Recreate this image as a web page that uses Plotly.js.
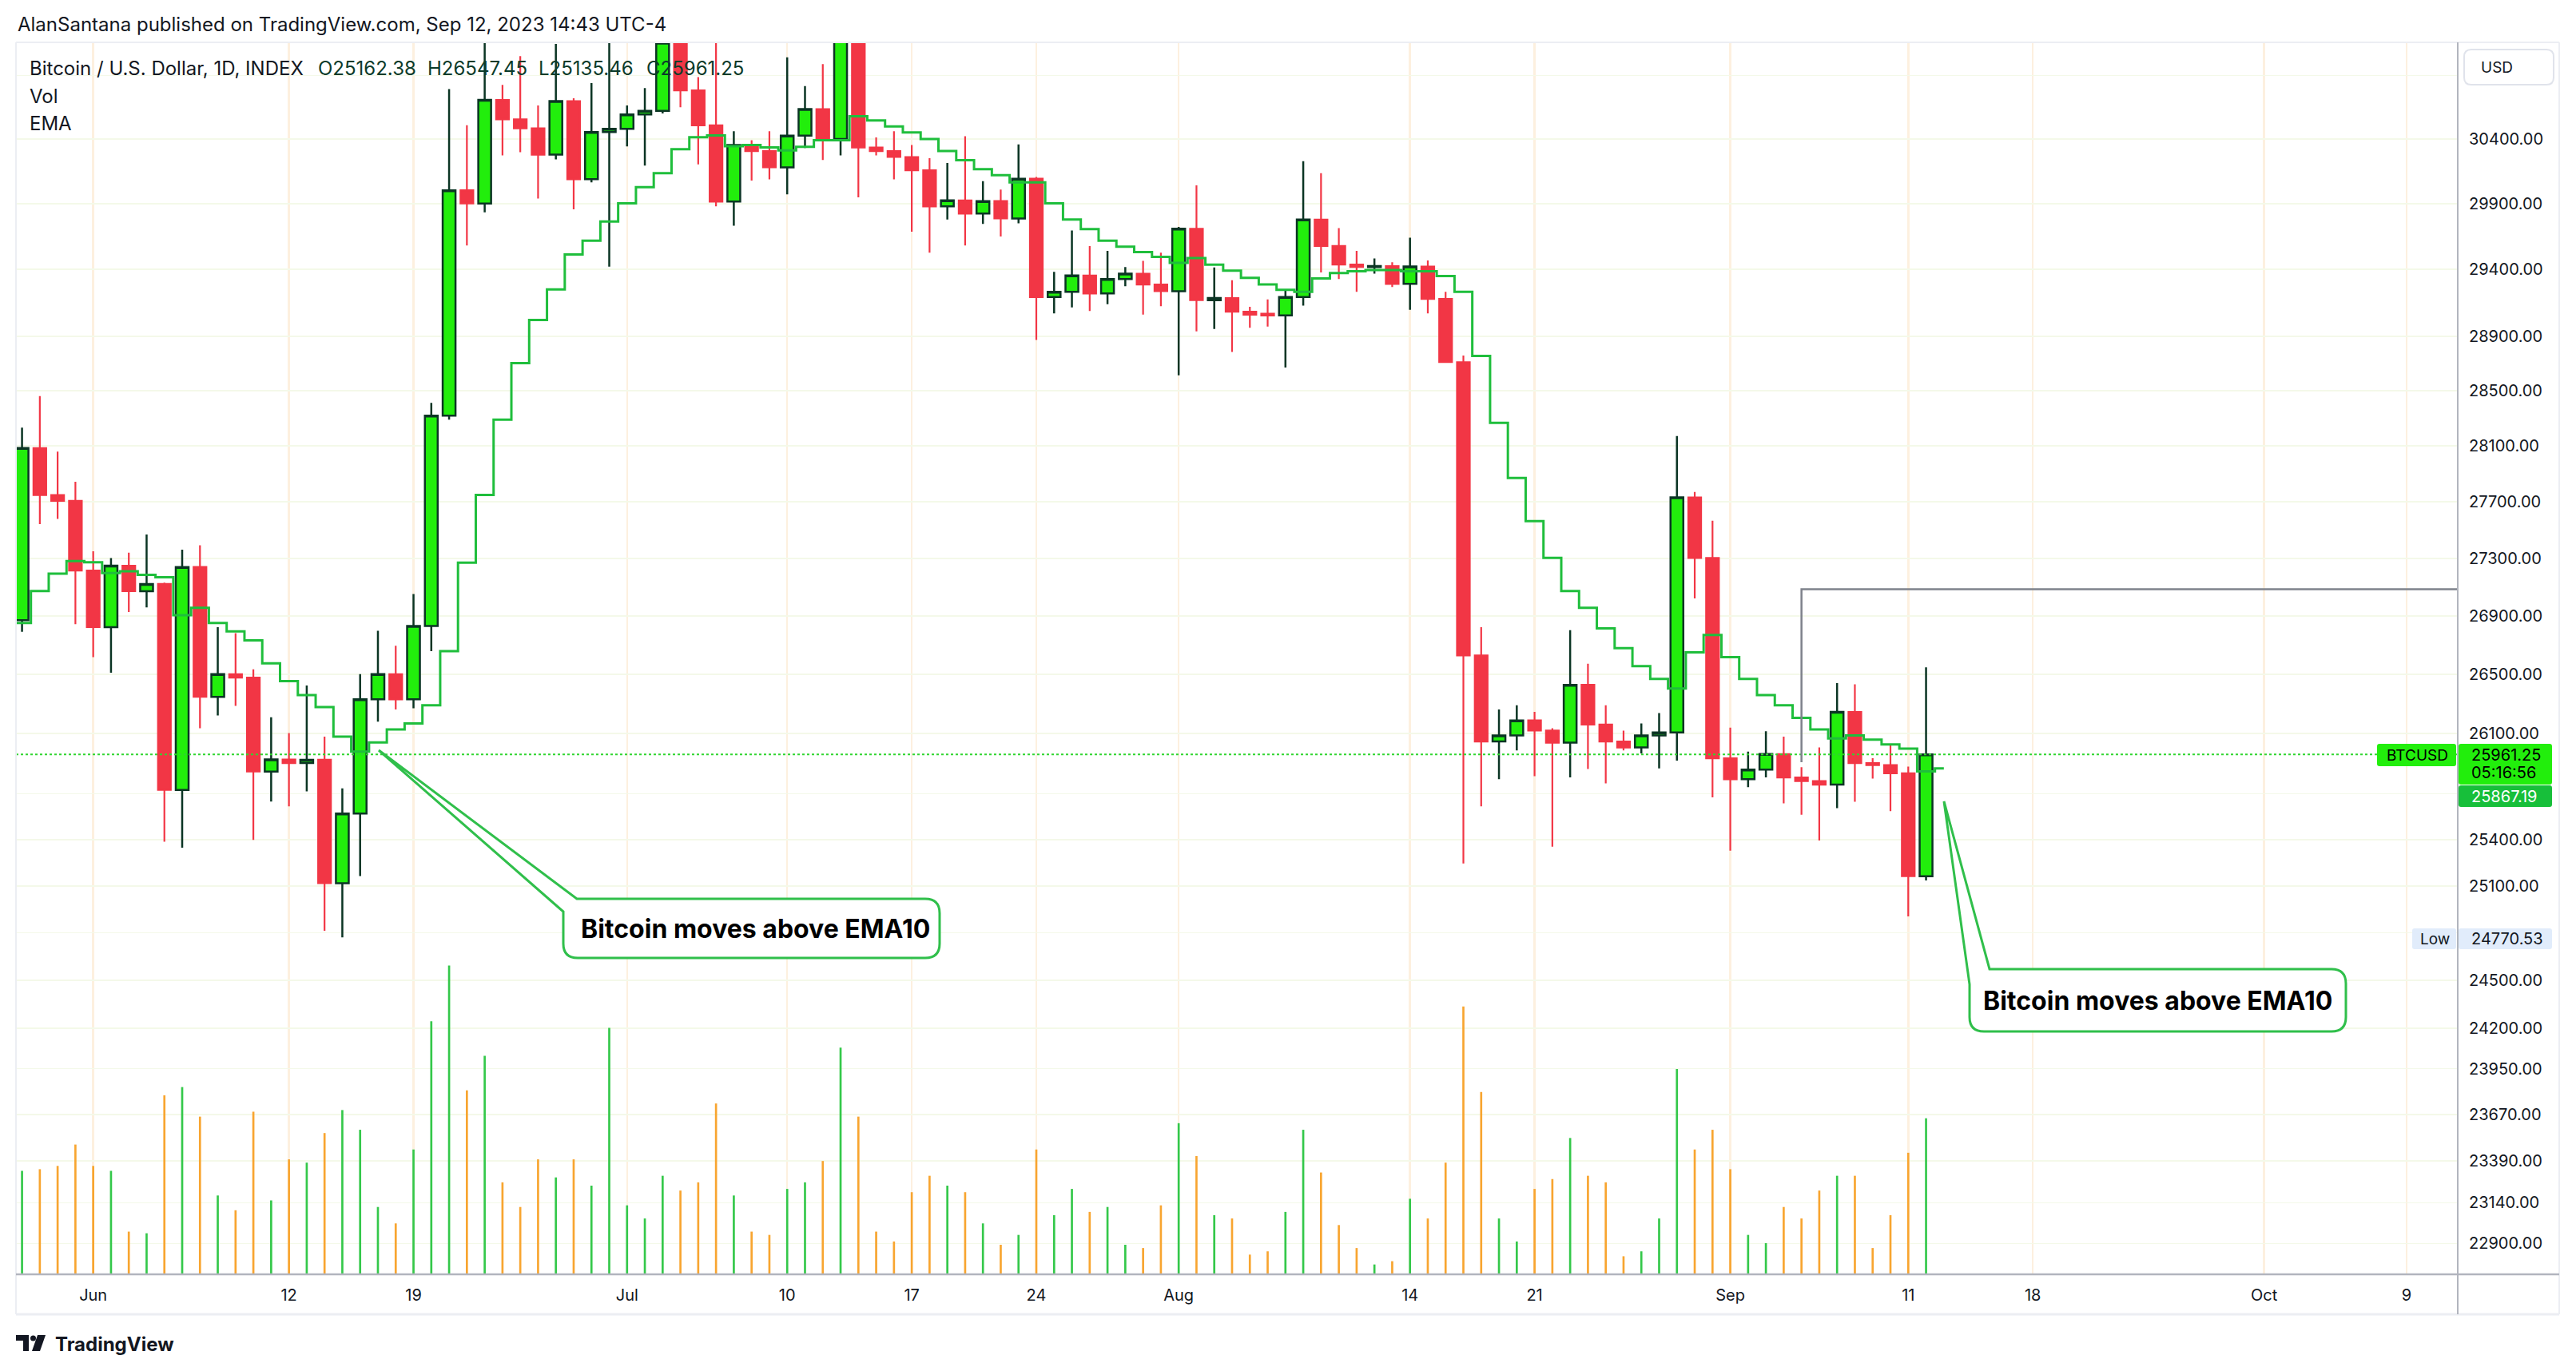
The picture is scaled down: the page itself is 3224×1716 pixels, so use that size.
<!DOCTYPE html>
<html><head><meta charset="utf-8">
<script src="https://cdn.plot.ly/plotly-3.0.1.min.js"></script>
<style>html,body{margin:0;padding:0;background:#fff;}#chart{width:3224px;height:1716px;}</style>
</head><body><div id="chart"></div>
<script>
// ---------- DATA ----------
const candleStart = '2023-05-28';
const opens = [26870,28083,27747,27705,27214,26822,27248,27071,27121,25725,27239,26347,26501,26477,25847,25927,25903,25925,25117,25570,26330,26501,26330,26830,28318,30003,29901,30706,30554,30483,30278,30697,30088,30455,
 30480,30592,30620,31160,30782,30507,29916,30353,30306,30180,30427,30634,30400,31450,30334,30306,30260,30157,29879,29925,29824,29920,29787,30092,29192,29232,29354,29219,29327,29368,29286,
 29236,29708,29169,29185,29083,29068,29055,29192,29778,29577,29436,29418,29425,29291,29422,29178,28709,26628,26047,26088,26188,26120,26039,26428,26160,26047,26007,26088,26108,27730,27302,
 25935,25796,25860,25963,25808,25784,25760,26245,25903,25890,25835,25162.38];
const highs = [28230,28460,28057,27842,27349,27302,27340,27467,27130,27361,27391,26822,26781,26534,26209,26104,26424,26080,25736,26501,26797,26694,27051,28410,30792,30508,31400,30825,31053,30663,31150,30720,30839,31280,
 30663,30800,31380,31320,30887,31500,30460,30390,30460,31044,30815,30990,31800,31630,30413,30460,30353,30250,30213,30422,30073,30008,30358,30106,29382,29695,29577,29540,29418,29464,29527,
 29722,30041,29414,29318,29120,29174,29250,30227,30134,29713,29540,29482,29454,29640,29468,29232,28758,26822,26262,26290,26245,26136,26802,26571,26290,26120,26168,26237,28170,27768,27564,
 26140,25979,26116,26080,25876,26007,26440,26432,25935,26023,25880,26547.45];
const lows = [26790,27540,27577,26842,26616,26510,26926,26959,25386,25347,26136,26221,26286,25398,25649,25617,25716,24813,24770.53,25163,26180,26262,26270,26657,28288,29581,29833,30273,30297,29940,30241,29856,30064,29421,
 30343,30194,30600,30648,30203,29879,29732,30078,30087,29972,30330,30237,30273,29948,30273,30087,29685,29527,29779,29581,29745,29650,29750,28873,29070,29115,29088,29138,29273,29061,29124,
 28612,28936,28954,28784,28963,28972,28670,29129,29377,29327,29232,29368,29268,29097,29070,28705,25245,25617,25796,25987,25816,25354,25808,25864,25768,25987,25967,25868,25919,27021,25676,
 25327,25744,25808,25637,25562,25394,25605,25648,25800,25586,24904,25135.46];
const closes = [28083,27747,27705,27214,26822,27248,27071,27121,25725,27239,26347,26501,26477,25847,25927,25903,25925,25117,25570,26330,26501,26330,26830,28318,30003,29901,30706,30554,30483,30278,30697,30088,30455,30480,
 30592,30620,31160,30782,30507,29916,30353,30306,30180,30427,30634,30400,31450,30334,30306,30260,30157,29879,29925,29824,29920,29787,30092,29192,29232,29354,29219,29327,29368,29286,29236,
 29708,29169,29185,29083,29061,29055,29192,29778,29577,29436,29418,29425,29291,29422,29178,28709,26628,26047,26088,26188,26120,26039,26428,26160,26047,26007,26088,26108,27730,27302,25935,
 25796,25860,25963,25808,25784,25760,26245,25903,25890,25835,25162.38,25961.25];
const volumes = [63,64,66,79,66,63,26,25,109,114,96,48,39,99,45,70,68,86,100,88,41,31,76,154,188,112,133,56,41,70,59,70,54,150,
 42,34,60,51,56,104,48,26,24,52,56,69,138,96,26,20,50,60,54,50,31,18,24,76,36,52,38,41,18,16,42,
 92,72,36,34,12,14,38,88,62,30,16,6,8,46,34,68,163,111,34,20,52,58,83,60,56,11,14,34,125,76,88,
 64,24,19,41,34,51,60,60,16,36,74,95];
// EMA 10 (plotted with a one-bar offset, as in the picture), first slot 2023-05-27
const emaStart = '2023-05-27';
const ema10 = [26800,26851,27072,27193,27281,27273,27197,27210,27185,27168,26905,26955,26851,26793,26732,26575,26453,26359,26278,26080,25979,26040,26128,26168,26290,26657,27269,27748,28288,28701,29021,29250,29513,29618,29764,
 29902,30027,30134,30320,30414,30428,30344,30353,30334,30311,30339,30391,30391,30578,30545,30498,30451,30400,30306,30236,30166,30120,30064,30064,29902,29778,29705,29618,29572,29531,29495,
 29449,29486,29436,29391,29336,29287,29246,29232,29332,29372,29386,29395,29395,29386,29386,29350,29232,28754,28266,27868,27561,27303,27072,26955,26814,26678,26555,26469,26404,26649,26769,
 26616,26469,26359,26290,26205,26128,26067,26088,26059,26027,25999,25848,25867.19];
const lastPrice = 25961.25, lastEma = 25867.19, lowPrice = 24770.53;
const priceTicks = [30900,30400,29900,29400,28900,28500,28100,27700,27300,26900,26500,26100,25700,25400,25100,24800,24500,24200,23950,23670,23390,23140,22900];
const hiddenTicks = [30900,25700,24800]; // covered by the axis labels in the picture
const dateTicks = ['2023-06-01','2023-06-12','2023-06-19','2023-07-01','2023-07-10','2023-07-17','2023-07-24','2023-08-01','2023-08-14','2023-08-21','2023-09-01','2023-09-11','2023-09-18','2023-10-01','2023-10-09'];
const dateTickText = ['Jun','12','19','Jul','10','17','24','Aug','14','21','Sep','11','18','Oct','9'];
const drawLine = {x:['2023-09-05','2023-09-05','2023-11-01'], y:[25909,27084,27084]};

// ---------- helpers ----------
const DAY = 864e5;
function dayList(start, n){const d0=Date.parse(start+'T00:00:00Z');const o=[];for(let i=0;i<n;i++)o.push(new Date(d0+i*DAY).toISOString().slice(0,10));return o;}
function msStr(ms){return new Date(ms).toISOString().replace('T',' ').slice(0,19);}
const cDates = dayList(candleStart, opens.length);
const eDates = dayList(emaStart, ema10.length);

// layout geometry (pixels)
const PL=20, PR=3076, PT=54, PB=1595, PW=PR-PL, PH=PB-PT;
const px = x => (x-PL)/PW, py = y => (PB-y)/PH;
const P = (x,y) => px(x).toFixed(5)+','+py(y).toFixed(5);
const jun1 = Date.parse('2023-06-01T00:00:00Z');
const xr0 = msStr(jun1 - 4.34*DAY), xr1 = msStr(jun1 + 132.88*DAY);
const yr = [Math.log10(22719.4), Math.log10(31156.8)];

const UP='#22ee0c', UPLINE='#0b3524', DN='#f23645', TXT='#131722';

const traces = [
 {type:'bar', x:cDates, y:volumes, yaxis:'y2', width:0.12*DAY,
  marker:{color:closes.map((c,i)=>c>=opens[i]?'#34c84a':'#f8a530'), line:{width:0}}, hoverinfo:'skip'},
 {type:'scatter', mode:'lines', x:[xr0,xr1], y:[lastPrice,lastPrice], line:{color:'#2fd52f', width:2, dash:'dot'}, hoverinfo:'skip'},
 {type:'candlestick', x:cDates, open:opens, high:highs, low:lows, close:closes,
  increasing:{line:{color:UPLINE, width:2.5}, fillcolor:UP},
  decreasing:{line:{color:DN, width:2.2}, fillcolor:DN}, whiskerwidth:0, hoverinfo:'skip'},
 {type:'scatter', mode:'lines', x:eDates, y:ema10, line:{color:'#1fbe3c', width:3, shape:'hvh'}, hoverinfo:'skip'},
 {type:'scatter', mode:'lines', x:drawLine.x, y:drawLine.y, line:{color:'#7f828c', width:2.5}, hoverinfo:'skip'}
];

// ---------- shapes ----------
const shapes = [];
function rrect(x0,y0,x1,y1,r){return `M${P(x0+r,y0)} L${P(x1-r,y0)} Q${P(x1,y0)} ${P(x1,y0+r)} L${P(x1,y1-r)} Q${P(x1,y1)} ${P(x1-r,y1)} L${P(x0+r,y1)} Q${P(x0,y1)} ${P(x0,y1-r)} L${P(x0,y0+r)} Q${P(x0,y0)} ${P(x0+r,y0)} Z`;}
function bubble(x0,y0,x1,y1,r,tx,ty,ax,by){return `M${P(tx,ty)} L${P(ax,y0)} L${P(x1-r,y0)} Q${P(x1,y0)} ${P(x1,y0+r)} L${P(x1,y1-r)} Q${P(x1,y1)} ${P(x1-r,y1)} L${P(x0+r,y1)} Q${P(x0,y1)} ${P(x0,y1-r)} L${P(x0,by)} Z`;}
function addPath(path, fill, lineColor, lw){shapes.push({type:'path', xref:'paper', yref:'paper', path, fillcolor:fill, line:{color:lineColor||'rgba(0,0,0,0)', width:lw||0}, layer:'above'});}
function addLine(x0,y0,x1,y1,color,w){shapes.push({type:'line', xref:'paper', yref:'paper', x0:px(x0), y0:py(y0), x1:px(x1), y1:py(y1), line:{color, width:w}, layer:'above'});}

// frame
addLine(20,53,3203,53,'#eceef3',2);
addLine(20,53,20,1645,'#eceef3',2);
addLine(3203,53,3203,1645,'#eceef3',2);
addLine(20,1645,3203,1645,'#eceef3',3);
addLine(20,1595,3203,1595,'#b2b5be',2.5);
addLine(3076,53,3076,1645,'#b2b5be',2);
// USD box
addPath(rrect(3084,62,3196,106,9),'#ffffff','#e0e3eb',2);
// price-axis labels
addPath(rrect(2975,931,3074,959,3),UP);
addPath(rrect(3077,931,3194,982,3),UP);
addPath(rrect(3077,983,3194,1010,3),'#17bf3a');
addPath(rrect(3019,1162,3074,1188,3),'#e1ecfb');
addPath(rrect(3077,1162,3194,1188,3),'#e1ecfb');
// callout bubbles
addPath(bubble(705,1125,1176,1199,18,474,939,722,1141),'#ffffff','#30bf4b',3);
addPath(bubble(2465,1213,2936,1291,18,2433,1003,2490,1232),'#ffffff','#30bf4b',3);
// TradingView logo
addPath(`M${P(20,1671)} L${P(36,1671)} L${P(36,1691)} L${P(29,1691)} L${P(29,1678)} L${P(20,1678)} Z`,TXT);
shapes.push({type:'circle', xref:'paper', yref:'paper', x0:px(38), x1:px(45), y0:py(1678.5), y1:py(1671.5), fillcolor:TXT, line:{width:0}, layer:'above'});
addPath(`M${P(47,1671)} L${P(57,1671)} L${P(50,1691)} L${P(40,1691)} Z`,TXT);

// ---------- annotations ----------
const ann = [];
function txt(x,y,text,opt){ann.push(Object.assign({xref:'paper', yref:'paper', x:px(x), y:py(y), text, showarrow:false, xanchor:'left', yanchor:'middle', font:{size:20, color:TXT}}, opt||{}));}
txt(20,31,'AlanSantana published on TradingView.com, Sep 12, 2023 14:43 UTC-4',{font:{size:24,color:TXT}});
txt(35,86,'Bitcoin / U.S. Dollar, 1D, INDEX',{font:{size:24,color:TXT}});
txt(396,86,'O25162.38',{font:{size:24,color:'#0b3b2a'}});
txt(533,86,'H26547.45',{font:{size:24,color:'#0b3b2a'}});
txt(672,86,'L25135.46',{font:{size:24,color:'#0b3b2a'}});
txt(807,86,'C25961.25',{font:{size:24,color:'#0b3b2a'}});
txt(35,121,'Vol',{font:{size:24,color:TXT}});
txt(35,154,'EMA',{font:{size:24,color:TXT}});
txt(3103,84,'USD',{font:{size:19,color:TXT}});
txt(3025,945,'BTCUSD',{xanchor:'center',font:{size:19,color:'#000'}});
txt(3091,945,'25961.25',{font:{size:20,color:'#000'}});
txt(3091,967,'05:16:56',{font:{size:20,color:'#000'}});
txt(3091,997,'25867.19',{font:{size:20,color:'#ffffff'}});
txt(3047,1175,'Low',{xanchor:'center',font:{size:19,color:TXT}});
txt(3091,1175,'24770.53',{font:{size:20,color:TXT}});
txt(945,1162,'<b>Bitcoin moves above EMA10</b>',{xanchor:'center',font:{size:32,color:'#000'}});
txt(2700,1252,'<b>Bitcoin moves above EMA10</b>',{xanchor:'center',font:{size:32,color:'#000'}});
txt(67,1682,'<b>TradingView</b>',{font:{size:24,color:TXT}});

const layout = {
 width:3224, height:1716, paper_bgcolor:'#ffffff', plot_bgcolor:'#ffffff',
 margin:{l:PL, r:3224-PR, t:PT, b:1716-PB, pad:0},
 font:{family:'Inter, Roboto, "DejaVu Sans", sans-serif', color:TXT},
 showlegend:false, hovermode:false, boxgap:0.28, boxgroupgap:0,
 xaxis:{type:'date', range:[xr0,xr1], tickmode:'array', tickvals:dateTicks, ticktext:dateTickText,
   showgrid:true, gridcolor:'#fdf0df', gridwidth:2.5, ticks:'', ticklen:0, ticklabelstandoff:12,
   tickfont:{size:20, color:TXT}, showline:false, zeroline:false, rangeslider:{visible:false}, fixedrange:true},
 yaxis:{type:'log', range:yr, side:'right', tickmode:'array', tickvals:priceTicks,
   ticktext:priceTicks.map(v=>hiddenTicks.includes(v)?'':v.toFixed(2)),
   showgrid:true, gridcolor:'#f4f9e9', gridwidth:1.5, ticks:'', ticklen:0, ticklabelstandoff:13,
   tickfont:{size:20, color:TXT}, showline:false, zeroline:false, fixedrange:true},
 yaxis2:{overlaying:'y', range:[0,749.5], visible:false, fixedrange:true},
 shapes, annotations:ann
};
Plotly.newPlot('chart', traces, layout, {staticPlot:true, displayModeBar:false});
</script></body></html>
